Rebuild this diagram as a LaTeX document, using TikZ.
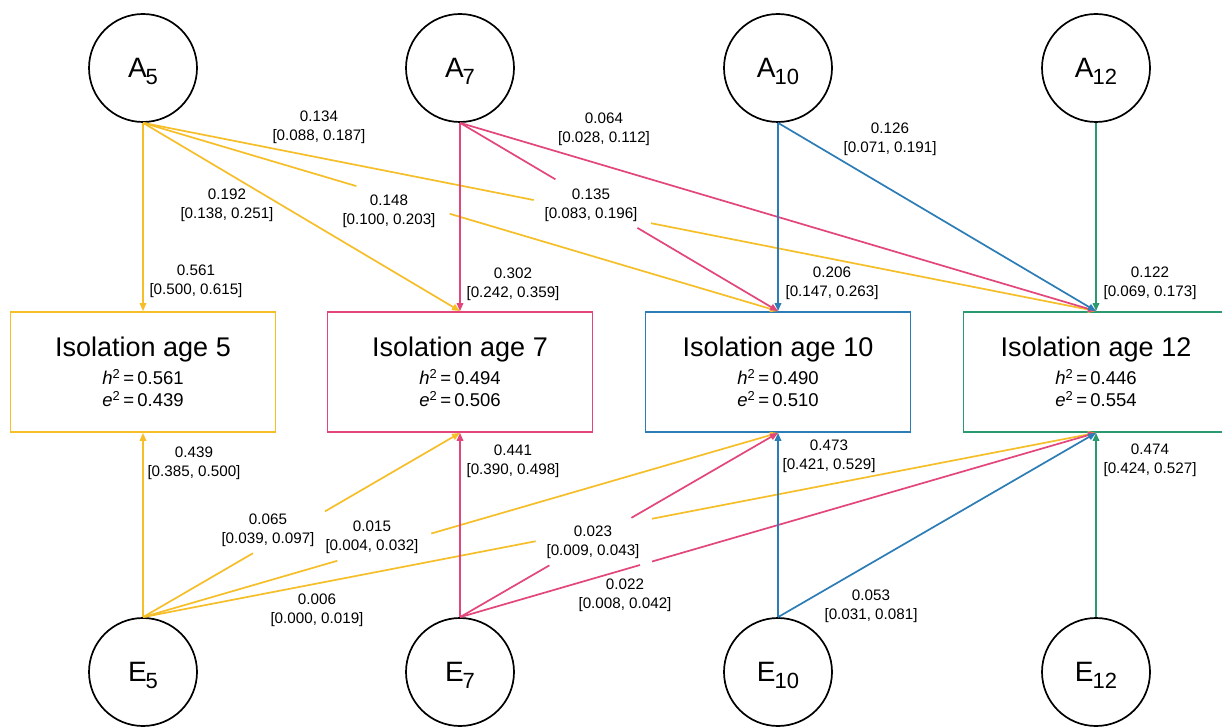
\documentclass[tikz,border=0pt]{standalone}
\usepackage{fontspec}
\setmainfont{Liberation Sans}
\usetikzlibrary{arrows.meta,calc}
\definecolor{cy}{RGB}{246,190,40}
\definecolor{cp}{RGB}{226,70,122}
\definecolor{cb}{RGB}{44,124,182}
\definecolor{cg}{RGB}{44,154,112}
\newcommand\lsub[1]{\kern-1pt\raisebox{-7pt}{\fontsize{22}{22}\selectfont #1}}
\newcommand\hh{{\itshape h}\textsuperscript{2}\,=\,}
\newcommand\ee{{\itshape e}\textsuperscript{2}\,=\,}
\begin{document}
\begin{tikzpicture}[x=1pt,y=-1pt,
 lat/.style={circle,draw=black,line width=1.7pt,minimum size=108pt,inner sep=0pt,text depth=0pt,font=\fontsize{28}{30}\selectfont},
 obs/.style={draw,line width=1.8pt,minimum width=265pt,minimum height=120pt,align=center,inner sep=0pt,font=\fontsize{18.5}{22}\selectfont},
 conn/.style={line width=1.7pt,-{Triangle[length=8pt,width=6.5pt]}},
 lbl/.style={align=center,font=\fontsize{15.2}{19}\selectfont,inner sep=0pt}]
\clip (0,0) rectangle (1222,727);
\fill[white] (0,0) rectangle (1222,727);
% latent nodes
\node[lat] (A5) at (143,68) {A\lsub{5}};
\node[lat] (A7) at (460,68) {A\lsub{7}};
\node[lat] (A10) at (778,68) {A\lsub{10}};
\node[lat] (A12) at (1096,68) {A\lsub{12}};
\node[lat] (E5) at (143,672) {E\lsub{5}};
\node[lat] (E7) at (460,672) {E\lsub{7}};
\node[lat] (E10) at (778,672) {E\lsub{10}};
\node[lat] (E12) at (1096,672) {E\lsub{12}};
% observed boxes
\node[obs,draw=cy] (B5) at (143,372) {{\fontsize{27}{28}\selectfont Isolation age 5}\\[6pt]\hh 0.561\\\ee 0.439};
\node[obs,draw=cp] (B7) at (460,372) {{\fontsize{27}{28}\selectfont Isolation age 7}\\[6pt]\hh 0.494\\\ee 0.506};
\node[obs,draw=cb] (B10) at (778,372) {{\fontsize{27}{28}\selectfont Isolation age 10}\\[6pt]\hh 0.490\\\ee 0.510};
\node[obs,draw=cg] (B12) at (1096,372) {{\fontsize{27}{28}\selectfont Isolation age 12}\\[6pt]\hh 0.446\\\ee 0.554};
% A paths
\draw[conn,cy] (A5.south) -- (B5.north);
\draw[conn,cy] (A5.south) -- (B7.north);
\draw[conn,cy] (A5.south) -- ($(A5.south)!0.336!(B10.north)$) ($(A5.south)!0.483!(B10.north)$) -- (B10.north);
\draw[conn,cy] (A5.south) -- ($(A5.south)!0.410!(B12.north)$) ($(A5.south)!0.533!(B12.north)$) -- (B12.north);
\draw[conn,cp] (A7.south) -- (B7.north);
\draw[conn,cp] (A7.south) -- ($(A7.south)!0.300!(B10.north)$) ($(A7.south)!0.558!(B10.north)$) -- (B10.north);
\draw[conn,cp] (A7.south) -- (B12.north);
\draw[conn,cb] (A10.south) -- (B10.north);
\draw[conn,cb] (A10.south) -- (B12.north);
\draw[conn,cg] (A12.south) -- (B12.north);
% E paths
\draw[conn,cy] (E5.north) -- (B5.south);
\draw[conn,cy] (E5.north) -- ($(E5.north)!0.347!(B7.south)$) ($(E5.north)!0.574!(B7.south)$) -- (B7.south);
\draw[conn,cy] (E5.north) -- ($(E5.north)!0.306!(B10.south)$) ($(E5.north)!0.454!(B10.south)$) -- (B10.south);
\draw[conn,cy] (E5.north) -- ($(E5.north)!0.412!(B12.south)$) ($(E5.north)!0.534!(B12.south)$) -- (B12.south);
\draw[conn,cp] (E7.north) -- (B7.south);
\draw[conn,cp] (E7.north) -- ($(E7.north)!0.281!(B10.south)$) ($(E7.north)!0.539!(B10.south)$) -- (B10.south);
\draw[conn,cp] (E7.north) -- ($(E7.north)!0.283!(B12.south)$) ($(E7.north)!0.302!(B12.south)$) -- (B12.south);
\draw[conn,cb] (E10.north) -- (B10.south);
\draw[conn,cb] (E10.north) -- (B12.south);
\draw[conn,cg] (E12.north) -- (B12.south);
% labels
\node[lbl] (l1) at (319,127) {0.134\\{[0.088, 0.187]}};
\node[lbl] (l2) at (227,205) {0.192\\{[0.138, 0.251]}};
\node[lbl] (l3) at (389,211.5) {0.148\\{[0.100, 0.203]}};
\node[lbl] (l4) at (196,281) {0.561\\{[0.500, 0.615]}};
\node[lbl] (l5) at (513,284) {0.302\\{[0.242, 0.359]}};
\node[lbl] (l6) at (591,205) {0.135\\{[0.083, 0.196]}};
\node[lbl] (l7) at (604,129) {0.064\\{[0.028, 0.112]}};
\node[lbl] (l8) at (890,139) {0.126\\{[0.071, 0.191]}};
\node[lbl] (l9) at (832,283.5) {0.206\\{[0.147, 0.263]}};
\node[lbl] (l10) at (1150,283.5) {0.122\\{[0.069, 0.173]}};
\node[lbl] (l11) at (194,463) {0.439\\{[0.385, 0.500]}};
\node[lbl] (l12) at (513,461) {0.441\\{[0.390, 0.498]}};
\node[lbl] (l13) at (268,530) {0.065\\{[0.039, 0.097]}};
\node[lbl] (l14) at (372,537.5) {0.015\\{[0.004, 0.032]}};
\node[lbl] (l15) at (317,610) {0.006\\{[0.000, 0.019]}};
\node[lbl] (l16) at (593,542.5) {0.023\\{[0.009, 0.043]}};
\node[lbl] (l17) at (625,595) {0.022\\{[0.008, 0.042]}};
\node[lbl] (l18) at (829,456.5) {0.473\\{[0.421, 0.529]}};
\node[lbl] (l19) at (1150,460) {0.474\\{[0.424, 0.527]}};
\node[lbl] (l20) at (871,606) {0.053\\{[0.031, 0.081]}};
\end{tikzpicture}
\end{document}
